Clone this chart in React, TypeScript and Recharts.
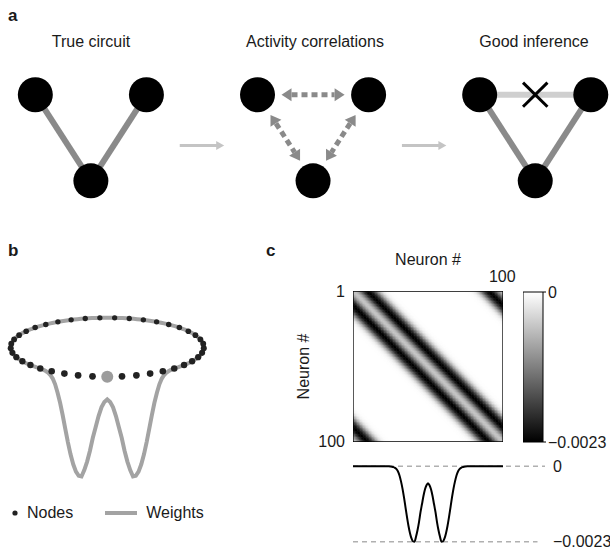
import React from 'react';
import {
  ComposedChart, ScatterChart, LineChart, BarChart,
  Scatter, Line, Bar, XAxis, YAxis, ReferenceLine, Legend,
} from 'recharts';

// ---- panel a: circuit schematics ----
const circuitTitles = ['True circuit', 'Activity correlations', 'Good inference'];
// node layout of one circuit: left, right, bottom (diagram units)
const circuitNodes = [
  { x: -1, y: 1 },
  { x: 1, y: 1 },
  { x: 0, y: 0 },
];
const circuitCentres = [0, 4, 8];
const trueEdges: [number, number][] = [[0, 2], [1, 2]];
const correlationEdges: [number, number][] = [[0, 1], [0, 2], [1, 2]];
const inferredEdges: [number, number][] = [[0, 2], [1, 2]];
const rejectedEdges: [number, number][] = [[0, 1]];

// ---- panels b and c: ring network weights ----
const neuronCount = 100;
const ringNodeCount = 41;
// weight vs distance between neurons (0..26) in c
const weightProfile = [
  -0.00052, -0.00058, -0.0007, -0.0009, -0.00115, -0.0014, -0.0017, -0.00195, -0.00215, -0.0023,
  -0.00229, -0.0022, -0.00204, -0.00182, -0.00155, -0.00125, -0.00095, -0.00068, -0.00046, -0.00028,
  -0.00016, -0.00009, -0.00005, -0.000025, -0.000012, -0.000005, 0,
];
const weightTicks = [0, -0.0023];
const neuronTicks = [1, 100];

const FONT = '"Liberation Sans", Arial, Helvetica, sans-serif';
const INK = '#1a1a1a';

const weightAt = (dist: number) => weightProfile[Math.abs(dist)] ?? 0;
const fmtWeight = (v: number) => (v === 0 ? '0' : `\u2212${Math.abs(v)}`);

// circuit geometry
const nodePoints = circuitCentres.flatMap((c) => circuitNodes.map((n) => ({ x: c + n.x, y: n.y })));
const edgeSegments = (edges: [number, number][], ci: number) =>
  edges.map(([a, b]) => [
    { x: circuitCentres[ci] + circuitNodes[a].x, y: circuitNodes[a].y },
    { x: circuitCentres[ci] + circuitNodes[b].x, y: circuitNodes[b].y },
  ]);
const flowSegments = circuitCentres.slice(1).map((c, i) => {
  const mid = (circuitCentres[i] + c) / 2;
  return [{ x: mid - 0.4, y: 0.41 }, { x: mid + 0.4, y: 0.41 }];
});
const crossSegments = edgeSegments(rejectedEdges, 2).flatMap(([p, q]) => {
  const cx = (p.x + q.x) / 2;
  const cy = (p.y + q.y) / 2;
  return [
    [{ x: cx - 0.22, y: cy + 0.14 }, { x: cx + 0.22, y: cy - 0.14 }],
    [{ x: cx - 0.22, y: cy - 0.14 }, { x: cx + 0.22, y: cy + 0.14 }],
  ];
});

// ring picture (b): unit circle seen at a tilt, weights hang below the ring
const TILT = 0.3057;
const DEPTH = 455;
const RAD_PER_NEURON = 0.03;
const dipHalf = weightProfile.length - 1;
const ringWeightLine: { x: number; y: number }[] = [];
for (let d = -dipHalf; d <= dipHalf; d++) {
  const phi = d * RAD_PER_NEURON;
  ringWeightLine.push({ x: Math.sin(phi), y: -TILT * Math.cos(phi) + weightAt(d) * DEPTH });
}
const backStart = dipHalf * RAD_PER_NEURON;
for (let s = 1; s <= 120; s++) {
  const phi = backStart + ((2 * Math.PI - 2 * backStart) * s) / 120;
  ringWeightLine.push({ x: Math.sin(phi), y: -TILT * Math.cos(phi) });
}
const ringNodes = Array.from({ length: ringNodeCount }, (_, k) => {
  const phi = (2 * Math.PI * k) / ringNodeCount;
  return { x: Math.sin(phi), y: -TILT * Math.cos(phi), depth: Math.cos(phi) };
});
const focusNode = ringNodes.slice(0, 1);
const otherNodes = ringNodes.slice(1);

// weight matrix (c) and its profile
const matrixCells: { x: number; y: number; w: number }[] = [];
for (let i = 1; i <= neuronCount; i++) {
  for (let j = 1; j <= neuronCount; j++) {
    const raw = Math.abs(i - j);
    const w = weightAt(Math.min(raw, neuronCount - raw));
    if (w < 0) matrixCells.push({ x: j, y: i, w });
  }
}
const lo = 0.5;
const hi = neuronCount + 0.5;
const matrixFrame = [
  { x: lo, y: lo }, { x: hi, y: lo }, { x: hi, y: hi }, { x: lo, y: hi }, { x: lo, y: lo },
];
const profileLine = Array.from({ length: neuronCount + 1 }, (_, k) => {
  const d = k - neuronCount / 2;
  return { d, w: weightAt(d) };
});
const colorbarData = [{ name: 'scale', range: [weightTicks[1], weightTicks[0]] }];

// ---- shapes ----
const unit = (x1: number, y1: number, x2: number, y2: number) => {
  const len = Math.hypot(x2 - x1, y2 - y1) || 1;
  return { ux: (x2 - x1) / len, uy: (y2 - y1) / len };
};
const head = (tx: number, ty: number, ux: number, uy: number, len: number, half: number) => {
  const bx = tx - ux * len;
  const by = ty - uy * len;
  return `${tx},${ty} ${bx - uy * half},${by + ux * half} ${bx + uy * half},${by - ux * half}`;
};

const EdgeShape = (p: any) => {
  const { ux, uy } = unit(p.x1, p.y1, p.x2, p.y2);
  const r = 16;
  return (
    <line
      x1={p.x1 + ux * r} y1={p.y1 + uy * r} x2={p.x2 - ux * r} y2={p.y2 - uy * r}
      stroke={p.stroke} strokeWidth={p.strokeWidth}
    />
  );
};
const PlainShape = (p: any) => (
  <line x1={p.x1} y1={p.y1} x2={p.x2} y2={p.y2} stroke={p.stroke} strokeWidth={p.strokeWidth} />
);
const DoubleArrowShape = (p: any) => {
  const { ux, uy } = unit(p.x1, p.y1, p.x2, p.y2);
  const gap = 24;
  const hl = 10;
  const ax = p.x1 + ux * gap, ay = p.y1 + uy * gap;
  const bx = p.x2 - ux * gap, by = p.y2 - uy * gap;
  return (
    <g>
      <line
        x1={ax + ux * hl} y1={ay + uy * hl} x2={bx - ux * hl} y2={by - uy * hl}
        stroke={p.stroke} strokeWidth={5} strokeDasharray="6 4"
      />
      <polygon points={head(ax, ay, -ux, -uy, hl, 6.5)} fill={p.stroke} />
      <polygon points={head(bx, by, ux, uy, hl, 6.5)} fill={p.stroke} />
    </g>
  );
};
const FlowArrowShape = (p: any) => {
  const { ux, uy } = unit(p.x1, p.y1, p.x2, p.y2);
  return (
    <g>
      <line x1={p.x1} y1={p.y1} x2={p.x2 - ux * 6} y2={p.y2 - uy * 6} stroke={p.stroke} strokeWidth={3} />
      <polygon points={head(p.x2, p.y2, ux, uy, 8, 4.5)} fill={p.stroke} />
    </g>
  );
};

const NodeShape = (p: any) => <circle cx={p.cx} cy={p.cy} r={17.5} fill="#000" />;
const HiddenShape = () => <g />;
const RingDot = (p: any) => (
  <circle cx={p.cx} cy={p.cy} r={3 + 0.35 * (p.payload?.depth ?? 0)} fill="#222" />
);
const FocusDot = (p: any) => <circle cx={p.cx} cy={p.cy} r={6} fill="#9c9c9c" />;
const CellShape = (p: any) => {
  const g = Math.round(255 * (1 - p.payload.w / weightTicks[1]));
  return <rect x={p.cx - 1} y={p.cy - 1} width={2} height={2} fill={`rgb(${g},${g},${g})`} />;
};

const RingLegend = (props: any) => {
  const items: any[] = props.payload ?? [];
  const nodes = items.find((it) => it.value === 'Nodes');
  const weights = items.find((it) => it.value === 'Weights');
  return (
    <div style={{ display: 'flex', alignItems: 'center', fontSize: 16, color: INK, whiteSpace: 'nowrap' }}>
      {nodes && (
        <>
          <svg width={8} height={8}><circle cx={4} cy={4} r={2.6} fill={nodes.color} /></svg>
          <span style={{ marginLeft: 8 }}>{nodes.value}</span>
        </>
      )}
      {weights && (
        <>
          <svg width={32} height={8} style={{ marginLeft: 32 }}>
            <line x1={0} y1={4} x2={32} y2={4} stroke={weights.color} strokeWidth={4} />
          </svg>
          <span style={{ marginLeft: 9 }}>{weights.value}</span>
        </>
      )}
    </div>
  );
};

const abs = (left: number, top: number): React.CSSProperties => ({ position: 'absolute', left, top });
const letter = (t: string, left: number, top: number) => (
  <div style={{ ...abs(left, top), fontSize: 17, fontWeight: 'bold', lineHeight: 1 }}>{t}</div>
);

export default function App() {
  const titleX = [91, 315, 534];
  return (
    <div
      style={{
        position: 'absolute', left: 0, top: 0, width: 610, height: 551, overflow: 'hidden',
        background: '#fff', fontFamily: FONT, color: INK,
      }}
    >
      {letter('a', 8, 7)}
      {letter('b', 8, 242)}
      {letter('c', 266, 242)}
      {circuitTitles.map((t, i) => (
        <div
          key={t}
          style={{
            ...abs(titleX[i], 42), transform: 'translate(-50%, -50%)', fontSize: 16,
            whiteSpace: 'nowrap', lineHeight: 1,
          }}
        >
          {t}
        </div>
      ))}

      {/* panel a */}
      <div style={abs(2, 0)}>
        <ComposedChart width={611} height={211} margin={{ top: 0, right: 0, bottom: 0, left: 0 }}>
          <XAxis type="number" dataKey="x" domain={[-1.6, 9.4]} allowDataOverflow hide />
          <YAxis type="number" dataKey="y" domain={[-0.35, 2.1]} allowDataOverflow hide />
          {edgeSegments(trueEdges, 0).map((seg, i) => (
            <ReferenceLine key={`t${i}`} segment={seg} stroke="#8a8a8a" strokeWidth={6} shape={EdgeShape} />
          ))}
          {edgeSegments(rejectedEdges, 2).map((seg, i) => (
            <ReferenceLine key={`r${i}`} segment={seg} stroke="#cfcfcf" strokeWidth={6} shape={EdgeShape} />
          ))}
          {edgeSegments(inferredEdges, 2).map((seg, i) => (
            <ReferenceLine key={`g${i}`} segment={seg} stroke="#8a8a8a" strokeWidth={6} shape={EdgeShape} />
          ))}
          {crossSegments.map((seg, i) => (
            <ReferenceLine key={`x${i}`} segment={seg} stroke="#000" strokeWidth={3} shape={PlainShape} />
          ))}
          {edgeSegments(correlationEdges, 1).map((seg, i) => (
            <ReferenceLine key={`c${i}`} segment={seg} stroke="#8a8a8a" shape={DoubleArrowShape} />
          ))}
          {flowSegments.map((seg, i) => (
            <ReferenceLine key={`f${i}`} segment={seg} stroke="#c4c4c4" shape={FlowArrowShape} />
          ))}
          <Scatter data={nodePoints} shape={NodeShape} isAnimationActive={false} />
        </ComposedChart>
      </div>

      {/* panel b */}
      <div style={abs(1, 299)}>
        <ScatterChart width={227} height={188} margin={{ top: 0, right: 0, bottom: 0, left: 0 }}>
          <XAxis type="number" dataKey="x" domain={[-1.1, 1.25]} allowDataOverflow hide />
          <YAxis type="number" dataKey="y" domain={[-1.45, 0.5]} allowDataOverflow hide />
          <Scatter
            data={ringWeightLine} name="Weights" fill="#a3a3a3" shape={HiddenShape}
            line={{ stroke: '#a3a3a3', strokeWidth: 4 }} lineType="joint" legendType="plainline"
            isAnimationActive={false}
          />
          <Scatter data={otherNodes} name="Nodes" fill="#222" shape={RingDot} legendType="circle" isAnimationActive={false} />
          <Scatter data={focusNode} name="Focus" fill="#9c9c9c" shape={FocusDot} legendType="none" isAnimationActive={false} />
          <Legend
            layout="horizontal" verticalAlign="middle" align="center" content={RingLegend}
            wrapperStyle={{ left: 10, top: 205, width: 220 }}
          />
        </ScatterChart>
      </div>

      {/* panel c: matrix */}
      <div style={abs(290, 245)}>
        <ScatterChart width={230} height={212} margin={{ top: 0, right: 17, bottom: 15, left: 0 }}>
          <XAxis
            type="number" dataKey="x" orientation="top" domain={[lo, hi]} ticks={[neuronTicks[1]]}
            allowDataOverflow height={46} axisLine={false} tickLine={false}
            tick={{ fontSize: 16, fill: INK, dy: -1 }}
            label={{ value: 'Neuron #', position: 'insideTop', offset: 9, fontSize: 16, fill: INK }}
          />
          <YAxis
            type="number" dataKey="y" domain={[lo, hi]} reversed ticks={neuronTicks} interval={0}
            allowDataOverflow width={63} axisLine={false} tickLine={false} tick={{ fontSize: 16, fill: INK }}
            label={{
              value: 'Neuron #', angle: -90, position: 'insideLeft', offset: 13, fontSize: 16, fill: INK,
              style: { textAnchor: 'middle' },
            }}
          />
          <Scatter data={matrixCells} shape={CellShape} isAnimationActive={false} />
          <Scatter
            data={matrixFrame} fill="#000" shape={HiddenShape} line={{ stroke: '#000', strokeWidth: 1.3 }}
            lineType="joint" isAnimationActive={false}
          />
        </ScatterChart>
      </div>

      {/* panel c: colour bar */}
      <div style={abs(523, 282)}>
        <BarChart width={87} height={170} data={colorbarData} margin={{ top: 10, right: 0, bottom: 10, left: 0 }} barCategoryGap={0}>
          <defs>
            <linearGradient id="cbGrad" x1="0" y1="0" x2="0" y2="1">
              <stop offset="0%" stopColor="#fff" />
              <stop offset="100%" stopColor="#000" />
            </linearGradient>
          </defs>
          <XAxis dataKey="name" hide />
          <YAxis
            orientation="right" type="number" domain={[weightTicks[1], weightTicks[0]]} ticks={weightTicks}
            interval={0} width={67} axisLine={false} tickSize={3} tickMargin={2}
            tickLine={{ stroke: '#000' }} tickFormatter={fmtWeight} tick={{ fontSize: 16, fill: INK }}
          />
          <Bar dataKey="range" fill="url(#cbGrad)" stroke="#000" strokeWidth={1} isAnimationActive={false} />
        </BarChart>
      </div>

      {/* panel c: weight profile */}
      <div style={abs(353, 453)}>
        <LineChart width={257} height={101} data={profileLine} margin={{ top: 10, right: 0, bottom: 9, left: 0 }}>
          <XAxis type="number" dataKey="d" domain={[-50, 78]} allowDataOverflow hide />
          <YAxis
            orientation="right" type="number" domain={[-0.0024, 0.0001]} ticks={weightTicks} interval={0}
            allowDataOverflow width={65} axisLine={false} tickLine={false} tickFormatter={fmtWeight}
            tick={{ fontSize: 16, fill: INK }}
          />
          <ReferenceLine segment={[{ x: -50, y: 0 }, { x: 78, y: 0 }]} stroke="#b0b0b0" strokeWidth={1.5} strokeDasharray="5 4" />
          <ReferenceLine segment={[{ x: -50, y: weightTicks[1] }, { x: 73, y: weightTicks[1] }]} stroke="#b0b0b0" strokeWidth={1.5} strokeDasharray="5 4" />
          <Line dataKey="w" type="monotone" dot={false} stroke="#000" strokeWidth={2} isAnimationActive={false} />
        </LineChart>
      </div>
    </div>
  );
}
